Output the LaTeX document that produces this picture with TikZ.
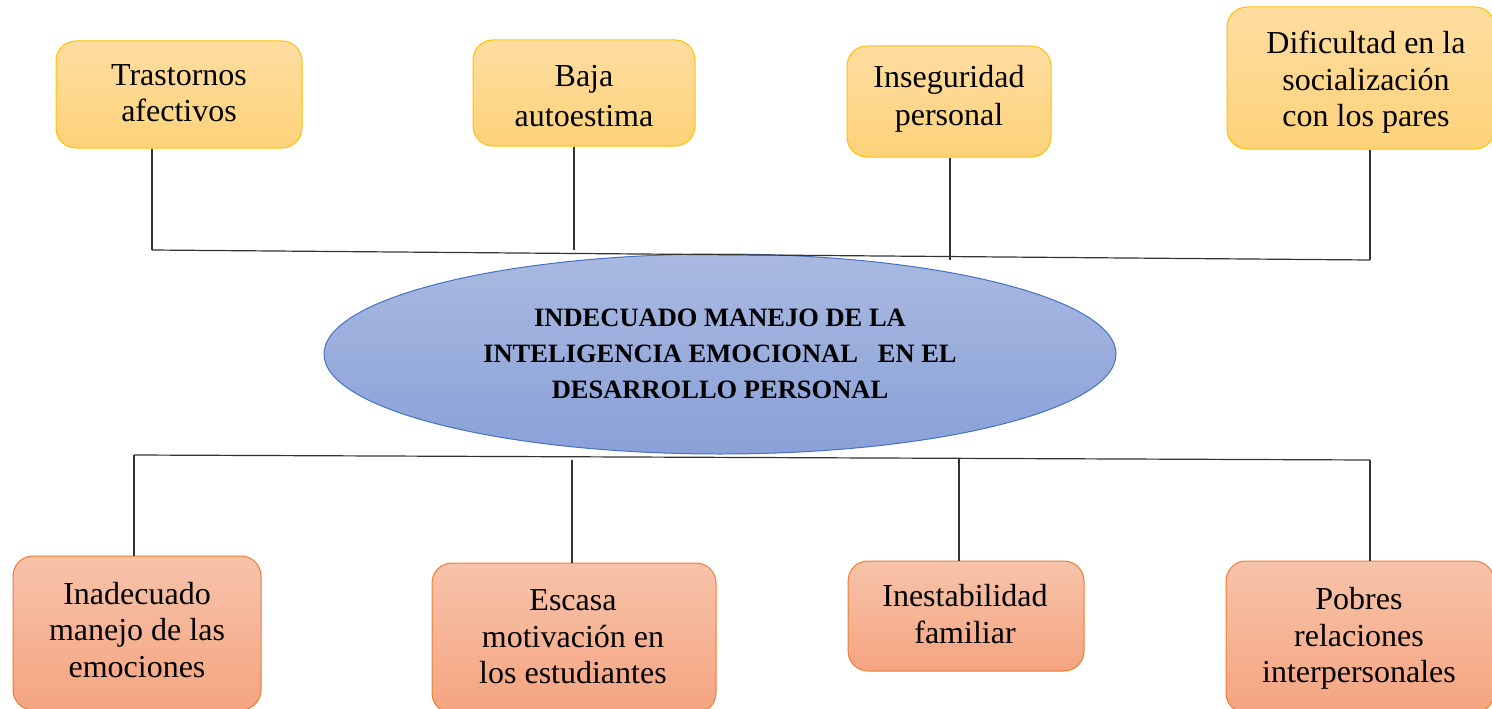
\documentclass[tikz,border=0pt]{standalone}
\usepackage{fontspec}
\setmainfont{Liberation Serif}
\usetikzlibrary{shapes.geometric}
\definecolor{ytop}{HTML}{FEDDA0}
\definecolor{ybot}{HTML}{FED27A}
\definecolor{yborder}{HTML}{FFC000}
\definecolor{stop}{HTML}{F7C3AA}
\definecolor{sbot}{HTML}{F5A480}
\definecolor{sborder}{HTML}{ED7D31}
\definecolor{etop}{HTML}{A9B9E0}
\definecolor{ebot}{HTML}{8AA1D8}
\definecolor{eborder}{HTML}{4472C4}
\tikzset{
  box/.style={rectangle, rounded corners=20pt, line width=1pt, inner sep=0pt},
  ybox/.style={box, draw=yborder, top color=ytop, bottom color=ybot},
  sbox/.style={box, draw=sborder, top color=stop, bottom color=sbot},
  txt/.style={inner sep=0pt, align=center, font=\fontsize{32}{#1}\selectfont},
  txt/.default=36.5,
  link/.style={draw=black!80, line width=1.2pt},
}
\begin{document}
\begin{tikzpicture}[x=1pt,y=-1pt]
\useasboundingbox (0,0) rectangle (1492,709);
% top boxes
\node[ybox, minimum width=246pt, minimum height=107pt] (t1) at (179,94.5) {};
\node[txt] (t1l) at (179,93) {Trastornos\\afectivos};
\node[ybox, minimum width=222pt, minimum height=106pt] (t2) at (584,93) {};
\node[txt=40] (t2l) at (584,96) {Baja\\autoestima};
\node[ybox, minimum width=204pt, minimum height=111pt] (t3) at (949,101.5) {};
\node[txt=38] (t3l) at (949,99) {Inseguridad\\personal};
\node[ybox, minimum width=268pt, minimum height=142pt] (t4) at (1361,78) {};
\node[txt] (t4l) at (1366,82.5) {Dificultad en la\\socialización\\con los pares};
% ellipse
\node[ellipse, draw=eborder, line width=1pt, top color=etop, bottom color=ebot,
  minimum width=792pt, minimum height=200pt, inner sep=0pt, align=center,
  font=\fontsize{26.5}{36}\selectfont\bfseries] (c) at (720,354)
  {INDECUADO MANEJO DE LA\\INTELIGENCIA EMOCIONAL\ \ \ EN EL\\DESARROLLO PERSONAL};
% bottom boxes
\node[sbox, minimum width=248pt, minimum height=154pt] (b1) at (137,633) {};
\node[txt] (b1l) at (137,630) {Inadecuado\\manejo de las\\emociones};
\node[sbox, minimum width=284pt, minimum height=150pt] (b2) at (574,638) {};
\node[txt] (b2l) at (573,637) {Escasa\\motivación en\\los estudiantes};
\node[sbox, minimum width=236pt, minimum height=110pt] (b3) at (966,616) {};
\node[txt] (b3l) at (965,614) {Inestabilidad\\familiar};
\node[sbox, minimum width=268pt, minimum height=152pt] (b4) at (1360,637) {};
\node[txt] (b4l) at (1359,638.5) {Pobres\\relaciones\\interpersonales};
% top connectors
\coordinate (j1) at (152,250);
\coordinate (j2) at (574,250);
\coordinate (j3) at (950,260);
\coordinate (j4) at (1370,260);
\draw[link] (j1) -- (j4);
\draw[link] (t1.south -| j1) -- (j1);
\draw[link] (t2.south -| j2) -- (j2);
\draw[link] (t3.south -| j3) -- (j3);
\draw[link] (t4.south -| j4) -- (j4);
% bottom connectors
\coordinate (k1) at (134,455);
\coordinate (k2) at (572,460);
\coordinate (k3) at (959,458);
\coordinate (k4) at (1370,460);
\draw[link] (k1) -- (k4);
\draw[link] (k1) -- (b1.north -| k1);
\draw[link] (k2) -- (b2.north -| k2);
\draw[link] (k3) -- (b3.north -| k3);
\draw[link] (k4) -- (b4.north -| k4);
\end{tikzpicture}
\end{document}
